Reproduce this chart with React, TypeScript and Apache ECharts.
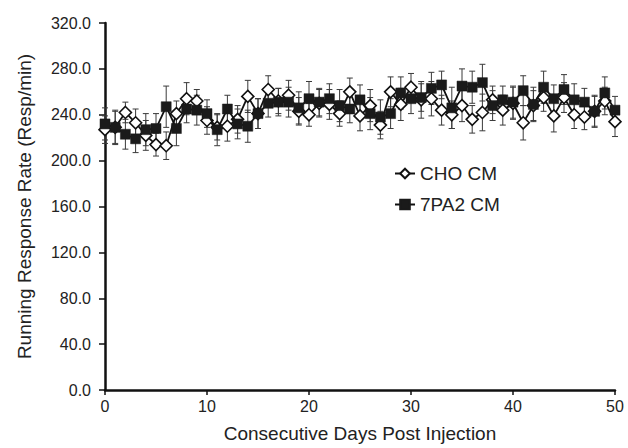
import React, { useEffect, useRef } from "react";
import * as echarts from "echarts";

const days: number[] = Array.from({ length: 51 }, (_, i) => i);

const choMean: number[] = [227, 229, 242, 233, 222, 214, 213, 241, 254, 252, 235, 229, 230, 236, 256, 241, 262, 252, 257, 243, 240, 250, 249, 241, 260, 239, 248, 231, 260, 249, 264, 253, 254, 244, 240, 248, 236, 242, 253, 244, 250, 233, 248, 255, 239, 255, 240, 238, 243, 252, 234];
const choErr: number[] = [12, 14, 9, 12, 13, 10, 12, 11, 14, 10, 12, 11, 13, 12, 14, 13, 12, 11, 13, 12, 10, 12, 13, 11, 12, 13, 14, 12, 13, 14, 12, 16, 15, 13, 12, 14, 12, 16, 12, 13, 14, 15, 13, 12, 14, 13, 12, 11, 14, 12, 13];

const pa2Mean: number[] = [232, 229, 223, 219, 227, 228, 247, 228, 245, 244, 241, 227, 245, 232, 230, 241, 250, 251, 251, 246, 254, 251, 254, 248, 245, 253, 241, 238, 241, 259, 254, 255, 263, 266, 246, 265, 264, 268, 248, 253, 251, 261, 249, 264, 254, 262, 253, 251, 243, 259, 244];
const pa2Err: number[] = [14, 15, 13, 12, 14, 13, 18, 15, 12, 13, 12, 14, 12, 13, 14, 13, 12, 12, 13, 14, 15, 12, 13, 14, 12, 13, 14, 15, 13, 14, 13, 12, 14, 12, 18, 15, 14, 16, 13, 12, 14, 13, 15, 14, 12, 13, 14, 12, 13, 14, 12];

const seriesNames: string[] = ["CHO CM", "7PA2 CM"];
const yTicks = { min: 0, max: 320, interval: 40 };
const xTicks = { min: 0, max: 50, interval: 10 };

const FONT = "'Liberation Sans', Arial, Helvetica, sans-serif";

function errRender(params: any, api: any) {
  const x = api.value(0);
  const lo = api.value(1);
  const hi = api.value(2);
  const p1 = api.coord([x, hi]);
  const p2 = api.coord([x, lo]);
  const w = 3;
  const style = { stroke: "#3a3a3a", lineWidth: 1 };
  return {
    type: "group",
    children: [
      { type: "line", shape: { x1: p1[0], y1: p1[1], x2: p2[0], y2: p2[1] }, style },
      { type: "line", shape: { x1: p1[0] - w, y1: p1[1], x2: p1[0] + w, y2: p1[1] }, style },
      { type: "line", shape: { x1: p2[0] - w, y1: p2[1], x2: p2[0] + w, y2: p2[1] }, style },
    ],
  };
}

export default function App() {
  const ref = useRef<HTMLDivElement>(null);
  useEffect(() => {
    if (!ref.current) return;
    const chart = echarts.init(ref.current, undefined, { renderer: "svg" });
    const choLine = days.map((d, i) => [d, choMean[i]]);
    const pa2Line = days.map((d, i) => [d, pa2Mean[i]]);
    const choBars = days.map((d, i) => [d, choMean[i] - choErr[i], choMean[i] + choErr[i]]);
    const pa2Bars = days.map((d, i) => [d, pa2Mean[i] - pa2Err[i], pa2Mean[i] + pa2Err[i]]);
    chart.setOption({
      animation: false,
      backgroundColor: "#ffffff",
      textStyle: { fontFamily: FONT },
      grid: { left: 105, right: 13, top: 23, bottom: 54, containLabel: false },
      legend: {
        data: seriesNames,
        orient: "vertical",
        left: 389,
        top: 159,
        itemWidth: 20,
        itemHeight: 12,
        itemGap: 12,
        textStyle: { fontSize: 19, color: "#222", fontFamily: FONT },
      },
      xAxis: {
        type: "value",
        min: xTicks.min,
        max: xTicks.max,
        interval: xTicks.interval,
        name: "Consecutive Days Post Injection",
        nameLocation: "middle",
        nameGap: 34,
        nameTextStyle: { fontSize: 19, color: "#222", fontFamily: FONT },
        axisLine: { lineStyle: { color: "#111", width: 2.5 } },
        axisTick: { show: true, length: 5, lineStyle: { color: "#111", width: 1.5 } },
        axisLabel: { fontSize: 16, color: "#222", margin: 8, fontFamily: FONT },
        splitLine: { show: false },
      },
      yAxis: {
        type: "value",
        min: yTicks.min,
        max: yTicks.max,
        interval: yTicks.interval,
        name: "Running Response Rate (Resp/min)",
        nameLocation: "middle",
        nameGap: 71,
        nameTextStyle: { fontSize: 19, color: "#222", fontFamily: FONT },
        axisLine: { show: true, lineStyle: { color: "#111", width: 2.5 } },
        axisTick: { show: true, length: 6, lineStyle: { color: "#111", width: 1.5 } },
        axisLabel: {
          fontSize: 16,
          color: "#222",
          margin: 14,
          fontFamily: FONT,
          formatter: (v: number) => v.toFixed(1),
        },
        splitLine: { show: false },
      },
      series: [
        {
          type: "custom",
          name: "choErr",
          renderItem: errRender,
          data: choBars,
          encode: { x: 0, y: [1, 2] },
          z: 1,
          silent: true,
        },
        {
          type: "custom",
          name: "pa2Err",
          renderItem: errRender,
          data: pa2Bars,
          encode: { x: 0, y: [1, 2] },
          z: 1,
          silent: true,
        },
        {
          type: "line",
          name: seriesNames[0],
          data: choLine,
          symbol: "diamond",
          symbolSize: 12,
          showAllSymbol: true,
          lineStyle: { color: "#111", width: 1.8 },
          itemStyle: { color: "#ffffff", borderColor: "#111", borderWidth: 1.6 },
          z: 3,
        },
        {
          type: "line",
          name: seriesNames[1],
          data: pa2Line,
          symbol: "rect",
          symbolSize: 10,
          showAllSymbol: true,
          lineStyle: { color: "#111", width: 1.8 },
          itemStyle: { color: "#1a1a1a", borderColor: "#1a1a1a", borderWidth: 0.5 },
          z: 4,
        },
      ],
    });
    return () => chart.dispose();
  }, []);
  return (
    <div
      ref={ref}
      style={{ position: "absolute", left: 0, top: 0, width: 628, height: 448 }}
    />
  );
}
